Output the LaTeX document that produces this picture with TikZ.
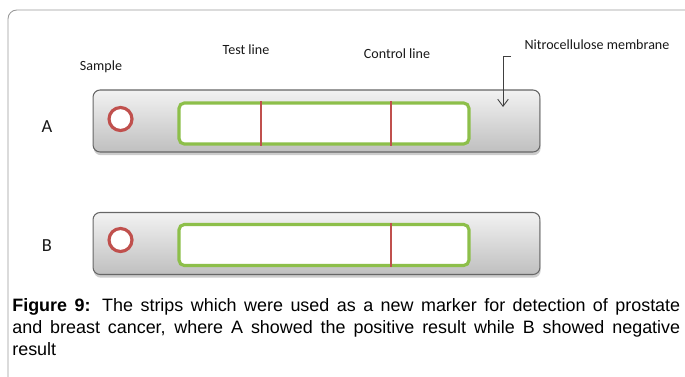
\documentclass[tikz,border=0pt]{standalone}
\usepackage{fontspec}
\setmainfont{Liberation Sans}
\newfontfamily\labelfont{Carlito}
\usetikzlibrary{positioning,shadows,arrows.meta}

\definecolor{memgreen}{HTML}{8DBF4A}
\definecolor{bandred}{HTML}{C0504D}

\tikzset{
  frame/.style={draw=black!40, line width=0.5pt, rounded corners=5pt},
  strip/.style={draw=black!60, line width=0.6pt, rounded corners=4pt,
    top color=black!5, bottom color=black!25,
    minimum width=8.94cm, minimum height=1.24cm,
    drop shadow={shadow xshift=0.4pt, shadow yshift=-1.8pt, opacity=0.4}},
  membrane/.style={draw=memgreen, line width=1.8pt, fill=white, rounded corners=3pt,
    minimum width=5.80cm, minimum height=0.82cm},
  well/.style={circle, draw=bandred, line width=1.8pt, fill=white, minimum size=0.46cm, inner sep=0pt},
  band/.style={draw=bandred, line width=1.3pt},
  lbl/.style={font=\labelfont\fontsize{8}{9}\selectfont, text=black!90, inner sep=0pt},
  rowlbl/.style={font=\labelfont\fontsize{10.5}{12}\selectfont, text=black!90, inner sep=0pt},
  pointer/.style={draw=black!75, line width=0.5pt, -{Straight Barb[length=4pt,width=6pt]}}
}

\begin{document}
\begin{tikzpicture}[x=0.02cm, y=-0.02cm]
\useasboundingbox (0,0) rectangle (685,376);
\begin{scope}
\clip (0,0) rectangle (685,376);
\draw[frame] (8,10) rectangle (720,420);
\end{scope}

% strip A (positive)
\node[strip] (stripA) at (316.5,121) {};
\node[well] (wellA) at ([xshift=0.56cm, yshift=0.04cm]stripA.west) {};
\node[membrane] (memA) at (324,123.5) {};
\draw[band] ([xshift=-1.26cm]memA.north) -- ([xshift=-1.26cm]memA.south);
\draw[band] ([xshift=1.34cm]memA.north) -- ([xshift=1.34cm]memA.south);

% strip B (negative)
\node[strip] (stripB) at (316.5,243.5) {};
\node[well] (wellB) at ([xshift=0.56cm, yshift=0.07cm]stripB.west) {};
\node[membrane] (memB) at (324,245) {};
\draw[band] ([xshift=1.34cm]memB.north) -- ([xshift=1.34cm]memB.south);

% labels
\node[rowlbl] (rowA) at (47,127) {A};
\node[rowlbl] (rowB) at (47,246) {B};
\node[lbl] (sample) at (101,67) {Sample};
\node[lbl] (testlbl) at (246,50) {Test line};
\node[lbl] (ctrllbl) at (397,54) {Control line};
\node[lbl] (memlbl) at (597,45) {Nitrocellulose membrane};

\coordinate (tick) at (511,56);
\coordinate (memtip) at (503,107);
\draw[pointer] (tick) -| (memtip);

% caption
\node[anchor=north west, inner sep=0pt, text width=13.36cm, align=justify,
  font=\fontsize{10.2}{12.5}\selectfont] (caption) at (12,298)
  {\textbf{Figure 9:} The strips which were used as a new marker for detection of prostate\linebreak
   and breast cancer, where A showed the positive result while B showed negative\linebreak
   result};
\end{tikzpicture}
\end{document}
